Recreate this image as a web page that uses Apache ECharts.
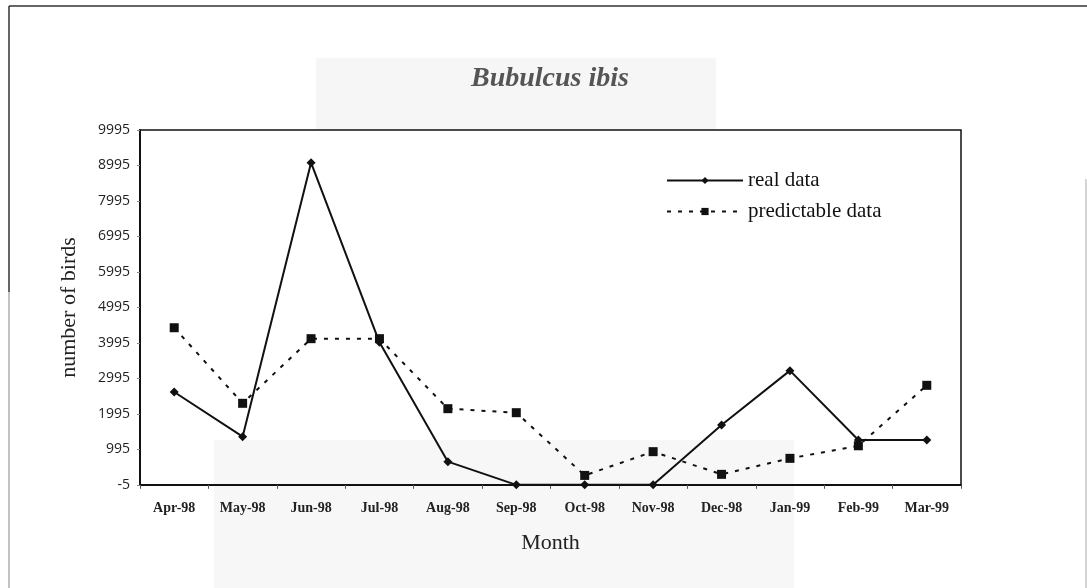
<!DOCTYPE html>
<html>
<head>
<meta charset="utf-8">
<script src="https://cdn.jsdelivr.net/npm/echarts@6/dist/echarts.min.js"></script>
<style>
html,body{margin:0;padding:0;background:#fff;}
#chart{width:1087px;height:588px;}
</style>
</head>
<body>
<div id="chart"></div>
<script>
const months = ['Apr-98','May-98','Jun-98','Jul-98','Aug-98','Sep-98','Oct-98','Nov-98','Dec-98','Jan-99','Feb-99','Mar-99'];
const realData = [2615, 1356, 9075, 4014, 652, 0, 0, 0, 1685, 3216, 1263, 1263];
const predictableData = [4425, 2296, 4117, 4117, 2145, 2032, 265, 934, 295, 746, 1100, 2803];
const yMin = -5, yMax = 9995, yStep = 1000;

const chart = echarts.init(document.getElementById('chart'));
chart.setOption({
  backgroundColor: '#ffffff',
  animation: false,
  title: {
    text: 'Bubulcus ibis',
    left: 545, top: 60, textAlign: 'center',
    textStyle: {fontFamily: 'Liberation Serif', fontStyle: 'italic', fontWeight: 'bold', fontSize: 28, color: '#555555'}
  },
  graphic: [
    {type: 'rect', z: -10, shape: {x: 316, y: 58, width: 400, height: 72}, style: {fill: '#f6f6f6'}},
    {type: 'rect', z: -10, shape: {x: 214, y: 440, width: 580, height: 148}, style: {fill: '#f7f7f7'}},
    {type: 'line', shape: {x1: 9, y1: 6, x2: 1087, y2: 6}, style: {stroke: '#333', lineWidth: 1.5}},
    {type: 'line', shape: {x1: 9, y1: 6, x2: 9, y2: 292}, style: {stroke: '#333', lineWidth: 1.5}},
    {type: 'line', shape: {x1: 9, y1: 292, x2: 9, y2: 588}, style: {stroke: '#999', lineWidth: 1.2}},
    {type: 'line', shape: {x1: 1086, y1: 179, x2: 1086, y2: 588}, style: {stroke: '#aaa', lineWidth: 1}}
  ],
  legend: {
    left: 661, top: 165, orient: 'vertical', itemGap: 10,
    itemWidth: 76, itemHeight: 9,
    textStyle: {fontFamily: 'Liberation Serif', fontSize: 21, color: '#111'},
    data: ['real data', 'predictable data']
  },
  grid: {left: 140, right: 126, top: 130, bottom: 103, show: true, borderColor: '#111', borderWidth: 1.5, backgroundColor: 'transparent'},
  xAxis: {
    type: 'category', data: months, boundaryGap: true,
    name: 'Month', nameLocation: 'middle', nameGap: 47,
    nameTextStyle: {fontFamily: 'Liberation Serif', fontSize: 22, color: '#222'},
    axisLine: {lineStyle: {color: '#111', width: 2}},
    axisTick: {show: true, length: 4, lineStyle: {color: '#555'}},
    axisLabel: {fontFamily: 'Liberation Serif', fontSize: 14, fontWeight: 'bold', color: '#222', margin: 16},
    splitLine: {show: false}
  },
  yAxis: {
    type: 'value', min: yMin, max: yMax, interval: yStep,
    name: 'number of birds', nameLocation: 'middle', nameGap: 60, nameRotate: 90,
    nameTextStyle: {fontFamily: 'Liberation Serif', fontSize: 22, color: '#222'},
    axisLine: {show: true, lineStyle: {color: '#111', width: 2}},
    axisTick: {show: true, length: 3, lineStyle: {color: '#888'}},
    axisLabel: {fontFamily: 'Open Sans', fontSize: 14, color: '#222', margin: 10, formatter: v => String(v)},
    splitLine: {show: false}
  },
  series: [
    {
      name: 'real data', type: 'line', data: realData,
      symbol: 'diamond', symbolSize: 9,
      lineStyle: {color: '#111', width: 2},
      itemStyle: {color: '#111'}
    },
    {
      name: 'predictable data', type: 'line', data: predictableData,
      symbol: 'rect', symbolSize: 9,
      lineStyle: {color: '#111', width: 2, type: [4, 7]},
      itemStyle: {color: '#111'}
    }
  ]
});
</script>
</body>
</html>
